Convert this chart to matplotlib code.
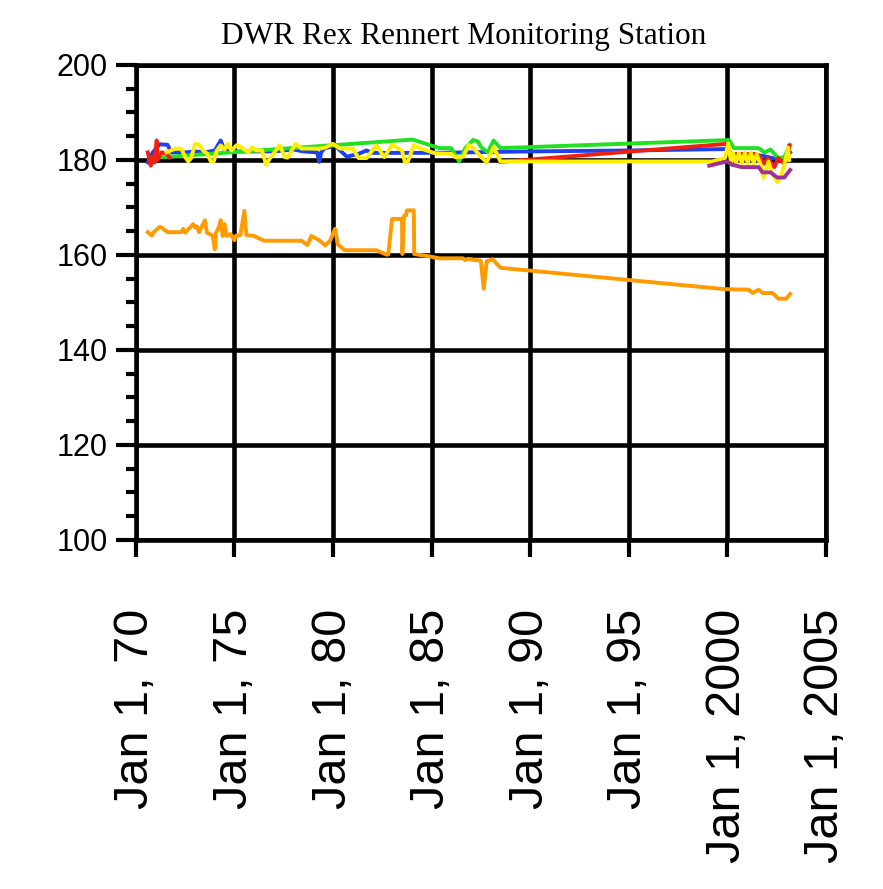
import numpy as np
import matplotlib
matplotlib.use("Agg")
import matplotlib.pyplot as plt
from matplotlib.ticker import MultipleLocator

# decimal years / water level
blue_x = [1970.6, 1970.85, 1971.2, 1971.6, 1971.8, 1972.5, 1973.0, 1973.5, 1974.0, 1974.3,
          1974.5, 1975.0, 1976.0, 1977.0, 1978.0, 1978.5, 1979.2, 1979.3, 1979.4, 1979.55,
          1980.1, 1980.7, 1981.3, 1981.7, 1982.0, 1983.0, 1985.0, 1990.0, 1995.0, 2000.0,
          2000.3, 2001.8, 2002.6, 2002.9, 2003.2]
blue_y = [179.5, 181.6, 183.3, 183.2, 181.6, 181.6, 181.8, 181.6, 182.0, 184.1,
          182.0, 181.8, 181.8, 181.8, 182.2, 181.8, 181.6, 179.6, 181.6, 182.4,
          183.0, 180.7, 181.3, 182.0, 181.5, 181.5, 181.5, 181.8, 182.0, 182.3,
          181.0, 180.9, 180.1, 180.3, 181.6]

red_x = [1970.6, 1970.75, 1970.88, 1970.95, 1971.05, 1971.1, 1971.3, 1971.55, 1971.7, np.nan,
         1988.5, 2000.0, 2000.15, 2000.3, 2000.45, 2000.6, 2000.75, 2000.9, 2001.05, 2001.2,
         2001.35, 2001.6, 2001.9, 2002.05, 2002.4, 2002.6, 2002.9, 2003.1, 2003.15]
red_y = [181.6, 178.8, 180.8, 179.5, 184.1, 180.0, 181.6, 181.4, 180.5, np.nan,
         179.6, 183.4, 181.3, 180.6, 181.3, 180.6, 181.3, 180.6, 181.3, 180.6,
         181.3, 181.0, 179.2, 180.4, 178.5, 180.4, 179.2, 180.9, 183.0]

green_x = [1970.7, 1984.05, 1985.4, 1986.0, 1986.4, 1986.7, 1987.1, 1987.35, 1987.5, 1987.85,
           1988.15, 1988.5, 2000.1, 2000.35, 2001.6, 2001.9, 2002.2, 2002.6, 2002.9, 2003.2]
green_y = [180.4, 184.3, 182.5, 182.5, 179.7, 182.4, 184.2, 183.9, 182.8, 181.6,
           184.1, 182.5, 184.2, 182.5, 182.5, 181.6, 182.2, 180.4, 180.6, 183.2]

yellow_x = [1971.55, 1972.0, 1972.3, 1972.5, 1972.65, 1972.8, 1973.0, 1973.2, 1973.4, 1973.6,
            1973.8, 1973.95, 1974.1, 1974.3, 1974.5, 1974.65, 1974.85, 1975.1, 1975.3, 1975.7,
            1975.9, 1976.1, 1976.4, 1976.6, 1976.85, 1977.3, 1977.55, 1977.7, 1978.1, 1978.4,
            1979.3, 1979.6, 1980.0, 1980.35, 1981.0, 1981.3, 1981.7, 1982.2, 1982.6, 1983.0,
            1983.5, 1983.65, 1983.8, 1984.1, 1984.45, 1985.2, 1986.0, 1986.2, 1986.6, 1986.9,
            1987.15, 1987.5, 1987.8, 1988.15, 1988.5, 1999.25, 1999.9, 2000.05, 2000.2, 2000.3,
            2000.45, 2000.6, 2000.75, 2000.9, 2001.05, 2001.2, 2001.35, 2001.5, 2001.7, 2001.85,
            2002.1, 2002.25, 2002.55, 2002.75, 2002.9, 2003.1, 2003.15]
yellow_y = [181.6, 182.4, 182.4, 180.6, 179.7, 180.4, 183.4, 183.2, 182.0, 181.4,
            179.7, 179.7, 182.0, 183.1, 182.2, 183.4, 182.0, 183.1, 182.8, 181.6,
            182.7, 182.0, 182.0, 179.0, 180.7, 183.1, 180.6, 180.5, 183.4, 182.4,
            182.4, 182.6, 183.4, 182.4, 182.4, 180.4, 180.4, 183.1, 180.6, 183.2,
            182.0, 179.5, 179.7, 183.1, 182.4, 181.4, 181.3, 180.6, 180.7, 183.2,
            182.4, 180.7, 179.5, 182.7, 179.7, 179.7, 180.4, 183.5, 179.5, 181.5,
            179.3, 181.5, 179.3, 181.5, 179.3, 181.5, 179.3, 181.2, 179.0, 176.3,
            179.7, 177.5, 175.3, 176.8, 179.0, 182.6, 180.0]

purple_x = [1999.1, 2000.0, 2000.25, 2000.75, 2001.6, 2001.8, 2002.2, 2002.55, 2002.9, 2003.2]
purple_y = [178.8, 179.7, 179.0, 178.5, 178.5, 177.4, 177.4, 176.3, 176.3, 177.9]

orange_x = [1970.6, 1970.8, 1970.9, 1971.2, 1971.3, 1971.6, 1972.3, 1972.4, 1972.5, 1972.9,
            1973.0, 1973.1, 1973.2, 1973.5, 1973.6, 1973.8, 1973.9, 1974.0, 1974.05, 1974.2,
            1974.3, 1974.4, 1974.5, 1974.6, 1974.8, 1975.0, 1975.05, 1975.3, 1975.5, 1975.6,
            1976.0, 1976.5, 1978.4, 1978.7, 1978.9, 1979.3, 1979.6, 1979.85, 1980.1, 1980.25,
            1980.6, 1982.2, 1982.7, 1982.8, 1983.0, 1983.5, 1983.52, 1983.6, 1983.7, 1983.75,
            1984.1, 1984.12, 1984.9, 1985.4, 1986.6, 1986.7, 1986.9, 1987.1, 1987.5, 1987.65,
            1987.8, 1987.9, 1988.1, 1988.5, 1999.9, 2001.1, 2001.3, 2001.6, 2001.8, 2002.3,
            2002.6, 2003.0, 2003.2]
orange_y = [164.8, 164.1, 164.8, 165.9, 165.8, 164.8, 164.8, 165.5, 164.7, 166.5,
            165.8, 166.0, 164.8, 167.3, 164.7, 164.3, 163.9, 161.2, 164.6, 165.8,
            167.3, 164.0, 166.5, 164.0, 164.4, 163.1, 164.0, 164.2, 169.3, 164.2,
            164.0, 163.0, 163.0, 162.1, 164.0, 163.1, 162.0, 163.0, 165.5, 162.2,
            161.0, 161.0, 160.1, 160.1, 167.6, 167.6, 160.2, 168.2, 168.3, 169.4,
            169.4, 160.2, 159.7, 159.3, 159.3, 158.9, 159.2, 159.0, 158.8, 152.9,
            158.7, 158.8, 159.1, 157.3, 152.8, 152.7, 152.0, 152.7, 152.0, 152.0,
            150.8, 150.8, 151.8]

series = [
    (blue_x, blue_y, "#2040f0"),
    (green_x, green_y, "#22e022"),
    (red_x, red_y, "#f02010"),
    (yellow_x, yellow_y, "#ffee00"),
    (purple_x, purple_y, "#a03098"),
    (orange_x, orange_y, "#ff9a00"),
]

year_ticks = [1970, 1975, 1980, 1985, 1990, 1995, 2000, 2005]
year_labels = ["Jan 1, 70", "Jan 1, 75", "Jan 1, 80", "Jan 1, 85",
               "Jan 1, 90", "Jan 1, 95", "Jan 1, 2000", "Jan 1, 2005"]

fig = plt.figure(figsize=(8.83, 8.89), dpi=100)
ax = fig.add_axes([0.154, 0.3926, 0.781, 0.5343])

for xs, ys, col in series:
    ax.plot(xs, ys, color=col, lw=2.8, solid_joinstyle="round")

ax.set_xlim(1970, 2005)
ax.set_ylim(100, 200)
ax.set_xticks(year_ticks)
ax.set_xticklabels(year_labels, rotation=90, fontsize=35, family="Liberation Sans")
ax.yaxis.set_major_locator(MultipleLocator(20))
ax.yaxis.set_minor_locator(MultipleLocator(5))
for lab in ax.get_yticklabels():
    lab.set_family("Liberation Sans")
    lab.set_fontsize(22)

ax.grid(True, which="major", color="black", lw=3.3)
for sp in ax.spines.values():
    sp.set_linewidth(3.3)
ax.tick_params(axis="y", which="major", length=14.5, width=3.0, pad=6)
ax.tick_params(axis="y", which="minor", length=7.5, width=3.0)
ax.tick_params(axis="x", which="major", length=12.5, width=3.0, pad=37)

ax.set_title("DWR Rex Rennert Monitoring Station", family="Liberation Serif",
             fontsize=22.5, pad=15, x=0.475)

fig.savefig("out.png", dpi=100)
